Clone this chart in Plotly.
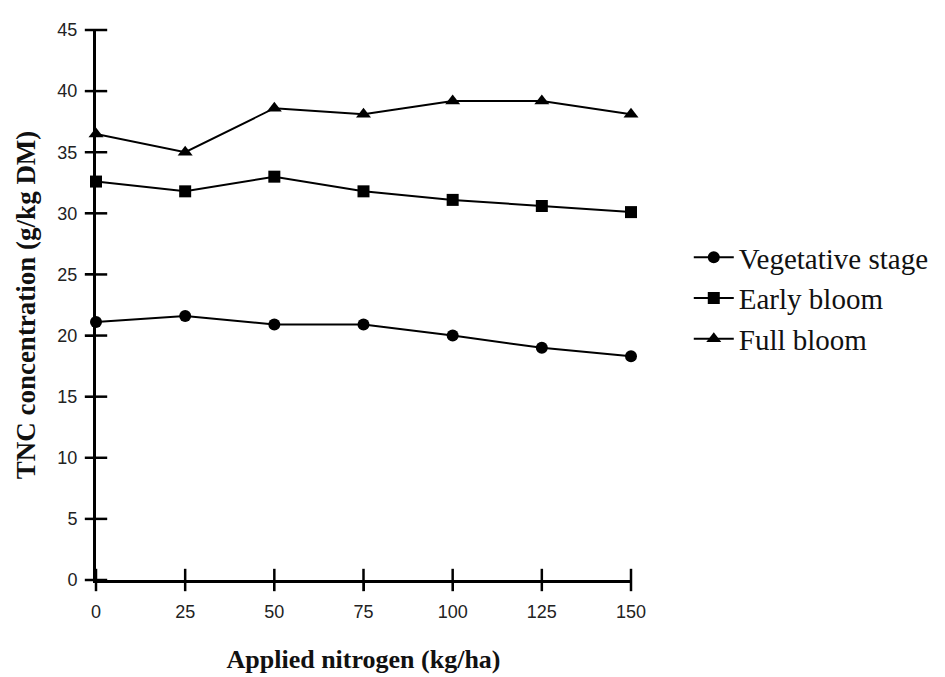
import plotly.graph_objects as go

nitrogen = [0, 25, 50, 75, 100, 125, 150]
vegetative = [21.1, 21.6, 20.9, 20.9, 20.0, 19.0, 18.3]
early_bloom = [32.6, 31.8, 33.0, 31.8, 31.1, 30.6, 30.1]
full_bloom = [36.5, 35.0, 38.6, 38.1, 39.2, 39.2, 38.1]

x_ticks = [0, 25, 50, 75, 100, 125, 150]
y_ticks = [0, 5, 10, 15, 20, 25, 30, 35, 40, 45]

series = [
    ("Vegetative stage", vegetative, "circle", 12),
    ("Early bloom", early_bloom, "square", 12),
    ("Full bloom", full_bloom, "triangle-up", 13),
]

fig = go.Figure()

# crossing tick marks: short line markers centred on the axes at the tick values
fig.add_trace(go.Scatter(
    x=x_ticks, y=[0] * len(x_ticks), mode="markers", cliponaxis=False,
    marker=dict(symbol="line-ns-open", size=16, color="black",
                line=dict(width=2.5, color="black")),
    showlegend=False, hoverinfo="skip",
))
fig.add_trace(go.Scatter(
    x=[0] * len(y_ticks), y=y_ticks, mode="markers", cliponaxis=False,
    marker=dict(symbol="line-ew-open", size=16, color="black",
                line=dict(width=2.5, color="black")),
    showlegend=False, hoverinfo="skip",
))

for name, vals, sym, sz in series:
    fig.add_trace(go.Scatter(
        x=nitrogen, y=vals, name=name, mode="lines+markers",
        line=dict(color="black", width=2),
        marker=dict(symbol=sym, size=sz, color="black"),
        cliponaxis=False,
    ))

tick_font = dict(family="Liberation Sans, Arial, sans-serif", size=18, color="#222")
serif = "Liberation Serif, Times New Roman, serif"

fig.update_layout(
    width=945, height=677,
    margin=dict(l=88, r=322, t=13, b=105),
    paper_bgcolor="white", plot_bgcolor="white",
    showlegend=True,
    legend=dict(
        x=1.108, y=0.512, xanchor="left", yanchor="middle",
        font=dict(family=serif, size=29, color="#111"),
        bgcolor="rgba(0,0,0,0)", tracegroupgap=0, itemwidth=40,
    ),
    xaxis=dict(
        range=[0, 150], tickvals=x_ticks, ticktext=[str(t) for t in x_ticks],
        showgrid=False, zeroline=False, showline=True, linecolor="black", linewidth=3,
        ticks="outside", ticklen=8, tickwidth=2, tickcolor="black",
        tickfont=tick_font, ticklabelstandoff=5,
        title=dict(text="<b>Applied nitrogen (kg/ha)</b>", font=dict(family=serif, size=26, color="#111"), standoff=30),
    ),
    yaxis=dict(
        range=[0, 45], tickvals=y_ticks, ticktext=[str(t) for t in y_ticks],
        showgrid=False, zeroline=False, showline=True, linecolor="black", linewidth=3,
        ticks="outside", ticklen=8, tickwidth=2, tickcolor="black",
        tickfont=tick_font, ticklabelstandoff=4,
        title=dict(text="<b>TNC concentration (g/kg DM)</b>", font=dict(family=serif, size=27, color="#111"), standoff=14),
    ),
)

fig.write_html("out.html")
